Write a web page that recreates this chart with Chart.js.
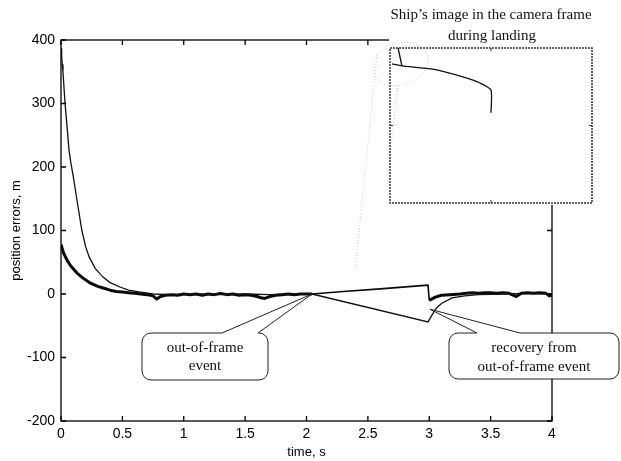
<!DOCTYPE html>
<html>
<head>
<meta charset="utf-8">
<script src="https://cdn.jsdelivr.net/npm/chart.js@4.4.1/dist/chart.umd.min.js"></script>
<style>
    html, body { margin: 0; padding: 0; background: #fff; }
    #wrap { position: relative; width: 621px; height: 461px; }
    #wrap canvas { position: absolute; left: 0; top: 0; }
</style>
</head>
<body>
<div id="wrap">
    <canvas id="main" width="621" height="461"></canvas>
    <canvas id="inset" width="621" height="461"></canvas>
</div>
<script>
// thin trace (starts ~385 m)
const timeThin = [0, 0.005, 0.01, 0.016, 0.033, 0.05, 0.065, 0.08, 0.1, 0.13, 0.17, 0.2, 0.23, 0.28, 0.34, 0.4, 0.48, 0.55, 0.65, 0.75,
    0.9, 1.1, 1.3, 1.5, 1.7, 1.9, 2.045, 2.99, 3.047, 3.07, 3.1, 3.185, 3.29, 3.4, 3.6, 3.8, 4.0];
const errThin = [387, 375, 362, 350, 300, 262, 227, 207, 185, 148, 100, 75, 58, 40, 27, 18, 11, 6, 3, 0,
    -1, 0, -1, 0, -1, 0, 0, -44, -25, -20, -15, -6, -3, -1, 0, 1, 0];

// thick trace (starts ~80 m)
const timeThick = [0, 0.02, 0.05, 0.08, 0.13, 0.18, 0.24, 0.3, 0.35, 0.4, 0.45, 0.5, 0.55, 0.6, 0.65, 0.7, 0.75, 0.78, 0.81, 0.85,
    0.9, 0.95, 1.0, 1.05, 1.1, 1.15, 1.2, 1.25, 1.3, 1.35, 1.4, 1.45, 1.5, 1.55, 1.6, 1.63, 1.66, 1.7, 1.75, 1.8,
    1.85, 1.9, 1.95, 2.0, 2.045, 2.3, 2.6, 2.99, 3.0, 3.05, 3.1, 3.17, 3.25, 3.3, 3.35, 3.4, 3.45, 3.5, 3.55, 3.6,
    3.65, 3.71, 3.75, 3.8, 3.85, 3.9, 3.95, 3.98, 4.0];
const errThick = [78, 65, 53, 44, 33, 25, 17, 12, 9, 6, 4, 3, 2, 1, 0, -1, -3, -8, -4, -2,
    -1, -2, 0, -1, 0, -2, 0, -1, 1, -1, 0, -2, -1, -2, -4, -6, -7, -4, -2, -1,
    0, -1, 0, 0, 0, 4, 8, 14, -10, -5, -2, -1, 0, 1, 2, 1, 2, 2, 1, 2,
    1, -4, 1, 2, 1, 2, 1, -3, -2];

// inset: ship outline in camera frame (frame units 0..100)
const insetEdgeX = [4, 5.9];
const insetEdgeY = [100, 88.4];
const insetShipX = [1, 5.9, 21.3, 38.1, 44.6, 50, 50];
const insetShipY = [89.7, 88.4, 86.3, 80.6, 77.4, 72.9, 58.3];

const xTicks = [0, 0.5, 1, 1.5, 2, 2.5, 3, 3.5, 4];
const yTicks = [-200, -100, 0, 100, 200, 300, 400];

const eventTip = [2.045, 0];
const recoveryTip = [3.006, -24];

function pts(xs, ys) {
    return xs.map((x, i) => ({ x: x, y: ys[i] }));
}

const sans = { family: '"Liberation Sans", Arial, sans-serif', size: 14 };
const serif = '15px "Liberation Serif", "Times New Roman", serif';

function drawBubble(ctx, box, tip, gap, lines, textX, textY) {
    const r = 9;
    ctx.save();
    ctx.beginPath();
    ctx.moveTo(box.l + r, box.t);
    ctx.lineTo(gap[0], box.t);
    ctx.lineTo(tip[0], tip[1]);
    ctx.lineTo(gap[1], box.t);
    ctx.arcTo(box.r, box.t, box.r, box.b, r);
    ctx.arcTo(box.r, box.b, box.l, box.b, r);
    ctx.arcTo(box.l, box.b, box.l, box.t, r);
    ctx.arcTo(box.l, box.t, box.r, box.t, r);
    ctx.closePath();
    ctx.fillStyle = '#fff';
    ctx.fill();
    ctx.strokeStyle = '#222';
    ctx.lineWidth = 1;
    ctx.stroke();
    ctx.fillStyle = '#111';
    ctx.font = serif;
    ctx.textAlign = 'center';
    ctx.textBaseline = 'middle';
    lines.forEach((t, i) => ctx.fillText(t, textX, textY[i]));
    ctx.restore();
}

const framePlugin = {
    id: 'frame',
    afterDraw(chart) {
        const { ctx, chartArea: a, scales } = chart;
        ctx.save();
        ctx.strokeStyle = '#000';
        ctx.lineWidth = 1.3;
        ctx.strokeRect(a.left, a.top, a.right - a.left, a.bottom - a.top);
        ctx.beginPath();
        xTicks.forEach((v) => {
            const px = scales.x.getPixelForValue(v);
            ctx.moveTo(px, a.bottom); ctx.lineTo(px, a.bottom - 5);
            ctx.moveTo(px, a.top); ctx.lineTo(px, a.top + 5);
        });
        yTicks.forEach((v) => {
            const py = scales.y.getPixelForValue(v);
            ctx.moveTo(a.left, py); ctx.lineTo(a.left + 5, py);
            ctx.moveTo(a.right, py); ctx.lineTo(a.right - 5, py);
        });
        ctx.stroke();
        ctx.restore();

        const tip1 = [scales.x.getPixelForValue(eventTip[0]), scales.y.getPixelForValue(eventTip[1])];
        const tip2 = [scales.x.getPixelForValue(recoveryTip[0]), scales.y.getPixelForValue(recoveryTip[1])];
        drawBubble(ctx, { l: 142, t: 333, r: 268, b: 380 }, tip1, [222, 258],
            ['out-of-frame', 'event'], 205, [348, 366]);
        drawBubble(ctx, { l: 449, t: 333, r: 619, b: 379 }, tip2, [477, 520],
            ['recovery from', 'out-of-frame event'], 534, [348, 367]);
    },
};

new Chart(document.getElementById('main').getContext('2d'), {
    type: 'line',
    data: {
        datasets: [
            {
                data: pts(timeThin, errThin),
                borderColor: '#111',
                borderWidth: 1.3,
            },
            {
                data: pts(timeThick, errThick),
                borderColor: '#0a0a0a',
                borderWidth: 3,
                borderJoinStyle: 'round',
                segment: {
                    // straight hold segment while the ship is out of frame
                    borderWidth: (c) => (c.p0.parsed.x >= 2.04 && c.p1.parsed.x <= 3.0 ? 1.6 : undefined),
                },
            },
        ],
    },
    options: {
        responsive: false,
        animation: false,
        layout: { padding: { top: 40, right: 69, left: 0, bottom: 0 } },
        elements: { point: { radius: 0 }, line: { tension: 0 } },
        plugins: { legend: { display: false }, tooltip: { enabled: false } },
        scales: {
            x: {
                type: 'linear',
                min: 0,
                max: 4,
                afterFit: (s) => { s.height = 40; },
                afterBuildTicks: (s) => { s.ticks = xTicks.map((v) => ({ value: v })); },
                ticks: { padding: 5, font: sans, color: '#000', maxRotation: 0, autoSkip: false, callback: (v) => String(v) },
                grid: { display: false, drawTicks: false },
                border: { display: false },
                title: { display: true, text: 'time, s', font: { family: sans.family, size: 13 }, color: '#000', padding: { top: 0, bottom: 1 } },
            },
            y: {
                type: 'linear',
                min: -200,
                max: 400,
                afterFit: (s) => { s.width = 61; },
                afterBuildTicks: (s) => { s.ticks = yTicks.map((v) => ({ value: v })); },
                ticks: { padding: 6, font: sans, color: '#000', callback: (v) => String(v) },
                grid: { display: false, drawTicks: false },
                border: { display: false },
                title: { display: true, text: 'position errors, m', font: { family: sans.family, size: 13 }, color: '#000', padding: { top: 9, bottom: 0 } },
            },
        },
    },
    plugins: [framePlugin],
});

const insetPlugin = {
    id: 'insetFrame',
    beforeDatasetsDraw(chart) {
        const { ctx, chartArea: a } = chart;
        ctx.save();
        ctx.fillStyle = '#fff';
        ctx.fillRect(a.left - 1, 37, a.right - a.left + 4, a.bottom - 35);
        // faint zoom marks
        ctx.strokeStyle = '#c8c8c8';
        ctx.lineWidth = 1;
        ctx.setLineDash([1, 2]);
        ctx.beginPath();
        ctx.ellipse(400, 64, 28, 21, -0.3, 0, Math.PI * 2);
        ctx.moveTo(377, 55); ctx.lineTo(355, 270);
        ctx.moveTo(398, 85); ctx.lineTo(386, 190);
        ctx.stroke();
        ctx.setLineDash([]);
        ctx.restore();
    },
    afterDraw(chart) {
        const { ctx, chartArea: a, scales } = chart;
        ctx.save();
        ctx.strokeStyle = '#333';
        ctx.lineWidth = 1.5;
        ctx.setLineDash([2, 1]);
        ctx.strokeRect(a.left, a.top, a.right - a.left, a.bottom - a.top);
        ctx.setLineDash([]);
        const cx = scales.x.getPixelForValue(50);
        const cy = scales.y.getPixelForValue(50);
        ctx.lineWidth = 1;
        ctx.beginPath();
        ctx.moveTo(cx, a.top); ctx.lineTo(cx, a.top + 3);
        ctx.moveTo(cx, a.bottom); ctx.lineTo(cx, a.bottom - 3);
        ctx.moveTo(a.left, cy); ctx.lineTo(a.left + 3, cy);
        ctx.moveTo(a.right, cy); ctx.lineTo(a.right - 3, cy);
        ctx.stroke();
        ctx.fillStyle = '#111';
        ctx.font = serif;
        ctx.textAlign = 'center';
        ctx.textBaseline = 'middle';
        ctx.fillText('Ship\u2019s image in the camera frame', 491, 15);
        ctx.fillText('during landing', 492, 36);
        ctx.restore();
    },
};

new Chart(document.getElementById('inset').getContext('2d'), {
    type: 'line',
    data: {
        datasets: [
            { data: pts(insetEdgeX, insetEdgeY), borderColor: '#111', borderWidth: 1.3 },
            { data: pts(insetShipX, insetShipY), borderColor: '#111', borderWidth: 1.3 },
        ],
    },
    options: {
        responsive: false,
        animation: false,
        layout: { padding: { left: 390, top: 48, right: 29, bottom: 258 } },
        elements: { point: { radius: 0 }, line: { tension: 0.2 } },
        plugins: { legend: { display: false }, tooltip: { enabled: false } },
        scales: {
            x: { type: 'linear', min: 0, max: 100, display: false },
            y: { type: 'linear', min: 0, max: 100, display: false },
        },
    },
    plugins: [insetPlugin],
});
</script>
</body>
</html>
